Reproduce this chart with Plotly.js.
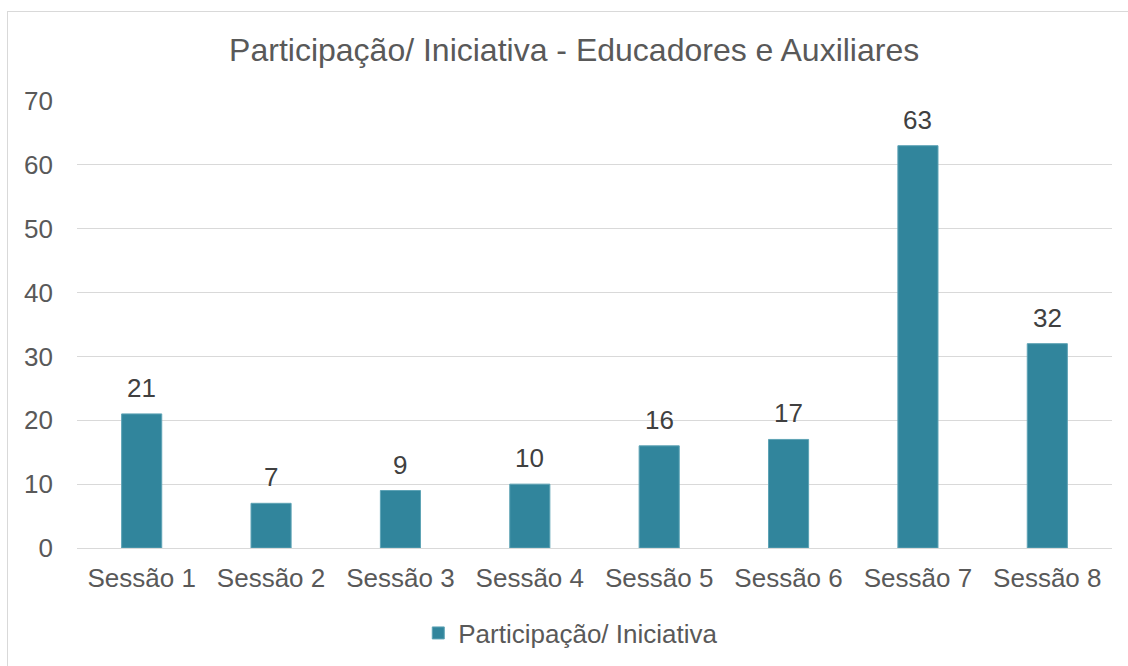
<!DOCTYPE html>
<html>
<head>
<meta charset="utf-8">
<script src="https://cdn.plot.ly/plotly-3.0.1.min.js"></script>
<style>
  html, body { margin: 0; padding: 0; background: #ffffff; }
  #wrap { position: relative; width: 1128px; height: 666px; overflow: hidden; }
  #chart { width: 1128px; height: 666px; }
  #frame { position: absolute; left: 7px; top: 11px; width: 1140px; height: 700px;
           border: 1px solid #d9d9d9; pointer-events: none; box-sizing: border-box; }
</style>
</head>
<body>
<div id="wrap">
  <div id="chart"></div>
  <div id="frame"></div>
</div>
<script>
const categories = ["Sessão 1", "Sessão 2", "Sessão 3", "Sessão 4", "Sessão 5", "Sessão 6", "Sessão 7", "Sessão 8"];
const values = [21, 7, 9, 10, 16, 17, 63, 32];
const seriesName = "Participação/ Iniciativa";
const chartTitle = "Participação/ Iniciativa - Educadores e Auxiliares";
const yTicks = [0, 10, 20, 30, 40, 50, 60, 70];

const FONT = "Liberation Sans, Arial, sans-serif";
const barColor = "#31859C";

const trace = {
  type: "bar",
  x: categories,
  y: values,
  name: seriesName,
  marker: { color: barColor, line: { color: "#5ea3b5", width: 1 } },
  showlegend: true,
  hoverinfo: "x+y"
};

const annotations = categories.map((c, i) => ({
  x: c, y: values[i], xref: "x", yref: "y",
  text: String(values[i]), showarrow: false,
  yanchor: "middle", yshift: 26,
  font: { family: FONT, size: 26, color: "#404040" }
}));

const layout = {
  width: 1128, height: 666,
  paper_bgcolor: "#ffffff", plot_bgcolor: "#ffffff",
  margin: { l: 77, r: 16, t: 101, b: 118 },
  font: { family: FONT, color: "#595959", size: 26 },
  title: {
    text: chartTitle,
    x: 0.509, xref: "container", xanchor: "center",
    y: 0.925, yref: "container", yanchor: "middle",
    font: { family: FONT, size: 32, color: "#595959" }
  },
  bargap: 0.69,
  xaxis: {
    type: "category",
    tickfont: { family: FONT, size: 26, color: "#595959" },
    showgrid: false, showline: false, ticks: "", zeroline: false,
    ticklabelstandoff: 12
  },
  yaxis: {
    range: [0, 70], tickvals: yTicks, ticktext: yTicks.map(String),
    tickfont: { family: FONT, size: 26, color: "#595959" },
    showgrid: true, gridcolor: "#d9d9d9", gridwidth: 1,
    zeroline: true, zerolinecolor: "#d9d9d9", zerolinewidth: 1,
    showline: false, ticks: "",
    ticklabelstandoff: 23, fixedrange: true
  },
  showlegend: true,
  legend: {
    orientation: "h",
    x: 0.506, xref: "container", xanchor: "center",
    y: 0.0495, yref: "container", yanchor: "middle",
    font: { family: FONT, size: 26, color: "#595959" },
    bgcolor: "rgba(0,0,0,0)"
  },
  annotations: annotations
};

Plotly.newPlot("chart", [trace], layout, { displayModeBar: false, staticPlot: true });
</script>
</body>
</html>
